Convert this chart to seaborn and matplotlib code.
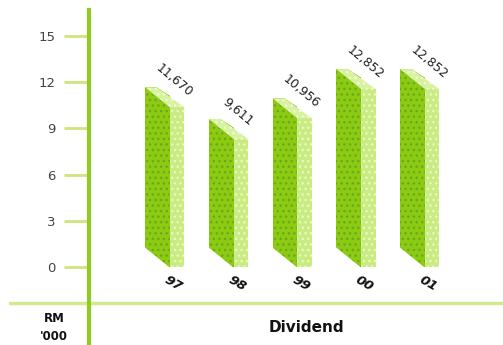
import matplotlib
matplotlib.use("Agg")
import matplotlib.pyplot as plt
import seaborn as sns
import pandas as pd
from matplotlib.patches import Polygon

years = ["97", "98", "99", "00", "01"]
dividend = [11.670, 9.611, 10.956, 12.852, 12.852]
value_labels = ["11,670", "9,611", "10,956", "12,852", "12,852"]
yticks = [0, 3, 6, 9, 12, 15]

sns.set_theme(style="white")
plt.rcParams["font.family"] = ["DejaVu Sans"]
plt.rcParams["hatch.linewidth"] = 1.0

W, H = 503, 345
fig = plt.figure(figsize=(W / 100, H / 100), dpi=100)
ax = fig.add_axes([89 / W, 0, 1 - 89 / W, (H - 10) / H])

df = pd.DataFrame({"year": years, "dividend": dividend})

front = "#8ccb12"
side = "#c9ec80"
top = "#d8f2a0"
w = 0.392
d = 0.227
s = 1.3

sns.barplot(data=df, x="year", y="dividend", width=w, color=front,
            saturation=1, ax=ax, hatch="...", edgecolor="#6aa81c", linewidth=0)

for p, v, lab in zip(ax.patches, dividend, value_labels):
    L = p.get_x()
    R = L + p.get_width()
    # side face
    ax.add_patch(Polygon([(R, 0), (R + d, 0), (R + d, v - s), (R, v - s)],
                         closed=True, facecolor=side, edgecolor="#eaf8c8",
                         hatch="...", linewidth=0, zorder=3))
    # carve top-right region above top face
    ax.add_patch(Polygon([(L + d * 0.8, v), (R + d + 0.05, v + 0.5),
                          (R + d + 0.05, v - s)],
                         closed=True, facecolor="white", edgecolor="none",
                         linewidth=0, zorder=4))
    # top face
    ax.add_patch(Polygon([(L, v), (L + d * 0.8, v), (R + d, v - s), (R, v - s)],
                         closed=True, facecolor=top, edgecolor="#f0fad8",
                         hatch="...", linewidth=0, zorder=5))
    # carve bottom-left triangle
    ax.add_patch(Polygon([(L - 0.01, -0.05), (R, -0.05), (L - 0.01, s)],
                         closed=True, facecolor="white", edgecolor="none",
                         linewidth=0, zorder=4))
    # value label
    ax.text(L + 0.455, v + 0.45, lab, rotation=-40, rotation_mode="anchor",
            ha="center", va="center", fontsize=9, color="#222222", zorder=6)

for p, yr in zip(ax.patches, years):
    R = p.get_x() + p.get_width()
    ax.text(R + d / 2 - 0.06, -1.05, yr, rotation=-30, rotation_mode="anchor",
            ha="center", va="center", fontsize=9.5, fontweight="bold",
            fontstyle="italic", color="#111111", zorder=6)

ax.set_xlim(-1.0745, 5.4196)
ax.set_ylim((267 - 345) / 15.4, (267 - 10) / 15.4)
ax.set_xticks([])
ax.set_xlabel("")
ax.set_ylabel("")
ax.set_yticks(yticks)
ax.set_yticklabels([str(t) for t in yticks], fontsize=9.5, color="#444444")
ax.tick_params(axis="y", length=18, width=2, color="#cde57a", pad=6, left=True)

for sp in ["top", "right", "bottom"]:
    ax.spines[sp].set_visible(False)
ax.spines["left"].set_color("#8fcb22")
ax.spines["left"].set_linewidth(3)
ax.spines["left"].set_zorder(10)

# horizontal base line
yline = (267 - 303) / 15.4
ax.plot([(10 - 89) / (W - 89), 1], [yline, yline],
        transform=ax.get_yaxis_transform(), color="#d2ea8a", lw=2.5,
        clip_on=False, zorder=2)

fig.text(306 / W, 1 - 327 / H, "Dividend", ha="center", va="center",
         fontsize=11, fontweight="bold", color="#111111")
fig.text(54 / W, 1 - 319 / H, "RM", ha="center", va="center",
         fontsize=8.5, fontweight="bold", color="#111111")
fig.text(54 / W, 1 - 337 / H, "'000", ha="center", va="center",
         fontsize=8.5, fontweight="bold", color="#111111")

fig.savefig("out.png", dpi=100)
